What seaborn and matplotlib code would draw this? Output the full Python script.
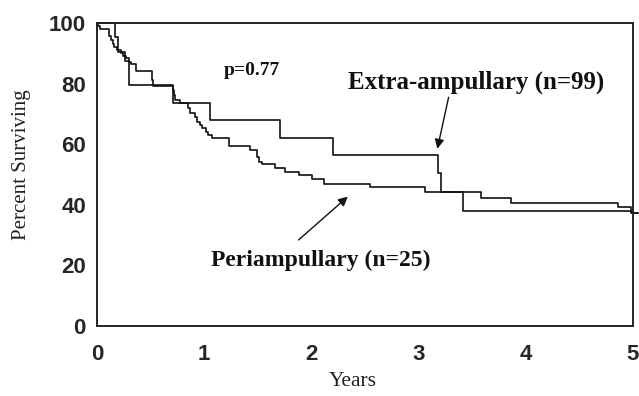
import matplotlib
matplotlib.use("Agg")
import matplotlib.pyplot as plt
import seaborn as sns
import pandas as pd

# ---- data ----
times_a = [0, 0.17, 0.20, 0.26, 0.30, 0.71, 1.05, 1.71, 2.20, 3.18, 3.21, 3.41, 4.99, 5.05]
surv_a = [100, 95.5, 90.5, 87.5, 79.5, 73.5, 68.0, 62.2, 56.4, 50.4, 44.1, 38.0, 37.4, 37.4]

times_b = [0, 0.006, 0.028, 0.115, 0.13, 0.146, 0.16, 0.19, 0.22, 0.245, 0.27, 0.295,
           0.318, 0.36, 0.51, 0.525, 0.71, 0.715, 0.73, 0.77, 0.85, 0.868, 0.915, 0.93,
           0.96, 0.977, 1.02, 1.037, 1.07, 1.23, 1.43, 1.49, 1.51, 1.54, 1.66, 1.75,
           1.88, 2.01, 2.12, 2.55, 3.06, 3.58, 3.86, 4.86, 4.98, 5.05]
surv_b = [100, 98.9, 97.9, 95.7, 94.4, 93.0, 92.2, 91.0, 90.0, 89.0, 88.3, 87.2,
          86.5, 84.3, 81.2, 79.3, 77.9, 76.2, 74.6, 73.5, 71.8, 70.2, 69.1, 67.4,
          66.3, 65.2, 64.1, 63.0, 62.2, 59.4, 58.1, 55.9, 54.2, 53.5, 52.0, 50.9,
          49.8, 48.5, 47.0, 46.0, 44.1, 42.3, 40.7, 39.2, 37.2, 37.2]

x_ticks = [0, 1, 2, 3, 4, 5]
y_ticks = [0, 20, 40, 60, 80, 100]

label_extra = "Extra-ampullary (n=99)"
label_peri = "Periampullary (n=25)"
p_text = "p=0.77"
extra_text_pos = [3.54, 80.5]
extra_arrow_start = [3.28, 75.5]
extra_arrow_tip = [3.175, 58.5]
peri_text_pos = [2.09, 21.5]
peri_arrow_start = [1.88, 28.4]
peri_arrow_tip = [2.34, 42.7]
p_text_pos = [1.44, 84.3]

# ---- build frame ----
df = pd.concat([
    pd.DataFrame({"Years": times_a, "Surv": surv_a, "group": "A"}),
    pd.DataFrame({"Years": times_b, "Surv": surv_b, "group": "B"}),
], ignore_index=True)

sns.set_style("white")
plt.rcParams["font.family"] = ["Liberation Serif", "DejaVu Serif"]

fig = plt.figure(figsize=(6.39, 3.96), dpi=100)
ax = fig.add_axes([97 / 639, 1 - 326 / 396, (633 - 97) / 639, (326 - 23) / 396])

sns.lineplot(data=df, x="Years", y="Surv", hue="group", palette=["#111111", "#111111"],
             estimator=None, sort=False, drawstyle="steps-post", linewidth=1.2,
             legend=False, ax=ax, clip_on=False)

ax.set_xlim(0, 5)
ax.set_ylim(0, 100)
ax.set_xticks(x_ticks)
ax.set_yticks(y_ticks)
ax.set_xticklabels([str(v) for v in x_ticks], fontfamily="Liberation Sans",
                   fontweight="bold", fontsize=16)
ax.set_yticklabels([str(v) for v in y_ticks], fontfamily="Liberation Sans",
                   fontweight="bold", fontsize=16)
ax.tick_params(axis="x", direction="out", length=7, width=1.2, pad=6, color="#222222")
ax.tick_params(axis="y", direction="out", length=6, width=1.2, pad=2, color="#222222")
for s in ax.spines.values():
    s.set_color("#222222")
    s.set_linewidth(1.4)
ax.set_xlabel("")
ax.set_ylabel("")

fig.text(353 / 639, 1 - 381 / 396, "Years", ha="center", va="center", fontsize=15.5,
         color="#222222")
fig.text(22 / 639, 1 - 165 / 396, "Percent Surviving", ha="center", va="center",
         rotation=90, fontsize=15, color="#222222")

ax.text(p_text_pos[0], p_text_pos[1], p_text, ha="center", va="center",
        fontsize=14, fontweight="bold", color="#111111")
ax.text(extra_text_pos[0], extra_text_pos[1], label_extra, ha="center", va="center",
        fontsize=18, fontweight="bold", color="#111111")
ax.text(peri_text_pos[0], peri_text_pos[1], label_peri, ha="center", va="center",
        fontsize=17, fontweight="bold", color="#111111")

arrow_kw = dict(arrowstyle="-|>", color="#111111", lw=1.0, mutation_scale=14,
                shrinkA=0, shrinkB=0)
ax.annotate("", xy=extra_arrow_tip, xytext=extra_arrow_start, arrowprops=arrow_kw)
ax.annotate("", xy=peri_arrow_tip, xytext=peri_arrow_start, arrowprops=arrow_kw)

fig.savefig("out.png", dpi=100)
